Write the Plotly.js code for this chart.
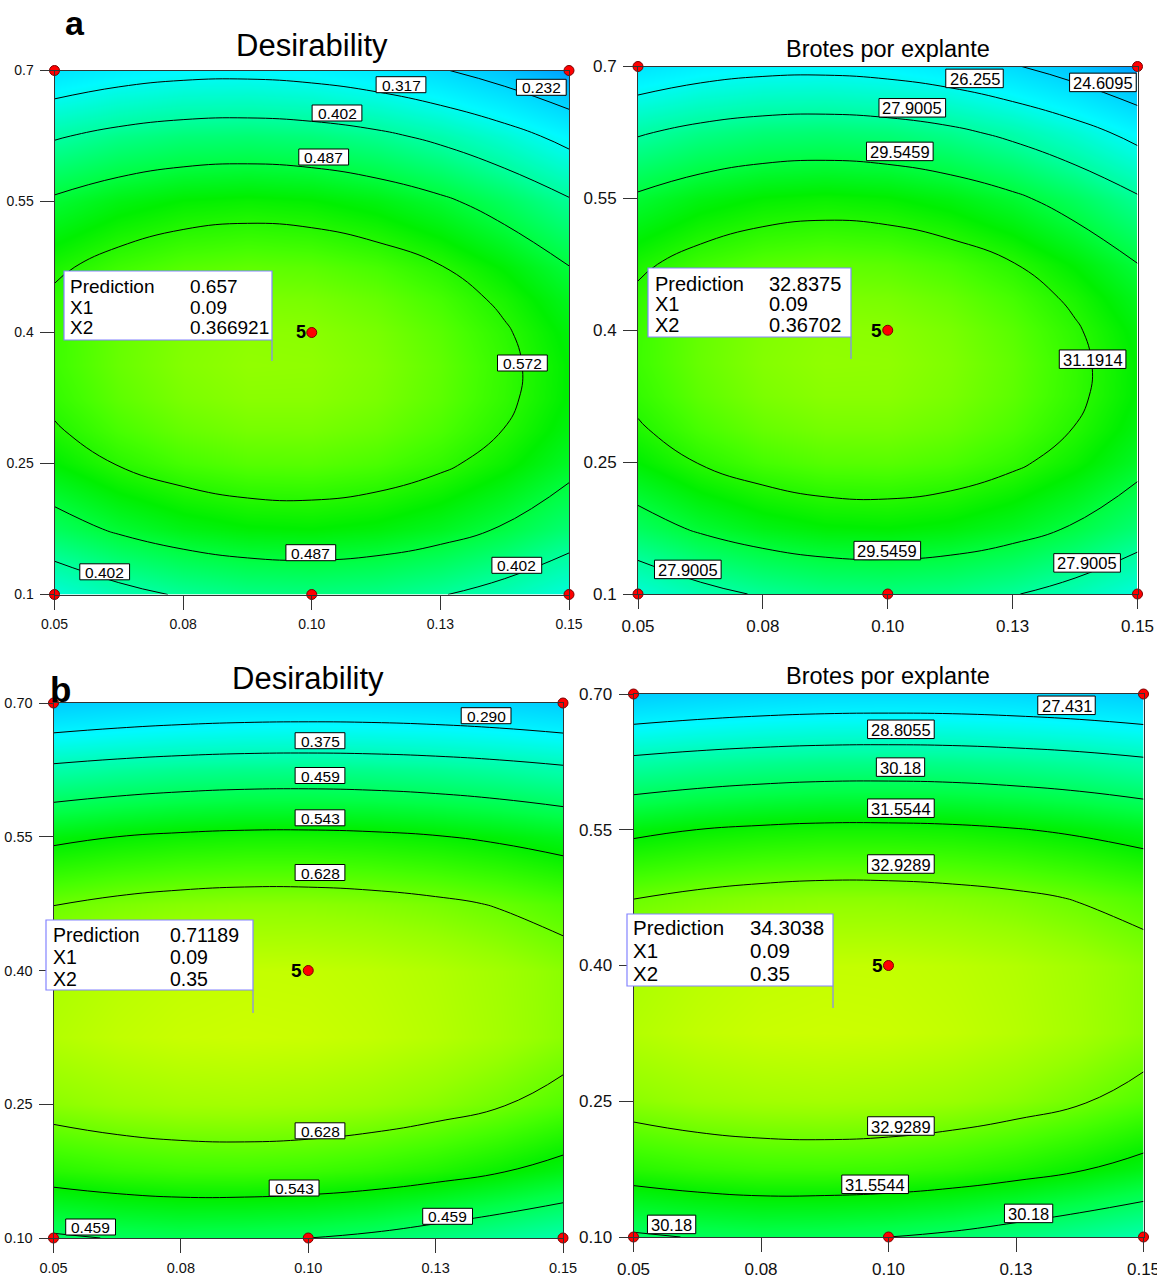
<!DOCTYPE html>
<html>
<head>
<meta charset="utf-8">
<script src="https://cdn.plot.ly/plotly-3.0.1.min.js"></script>
<style>
html,body{margin:0;padding:0;background:#ffffff;}
#chart{width:1157px;height:1278px;}
</style>
</head>
<body>
<div id="chart"></div>
<script>
// ---------------- DATA ----------------
const x1Grid = [0.05, 0.0625, 0.075, 0.0875, 0.1, 0.1125, 0.125, 0.1375, 0.15];
const x2GridA = [0.1, 0.175, 0.25, 0.2875, 0.325, 0.3625, 0.4, 0.4375, 0.475, 0.55, 0.625, 0.7];
const x2GridB = [0.1, 0.175, 0.25, 0.325, 0.4, 0.475, 0.55, 0.625, 0.7];

// rows follow the x2 grid (bottom to top), columns follow x1Grid
const desirabilityA = [
  [0.3426, 0.3812, 0.4085, 0.4246, 0.4294, 0.4230, 0.4054, 0.3766, 0.3365],
  [0.4595, 0.4963, 0.5219, 0.5363, 0.5395, 0.5314, 0.5121, 0.4816, 0.4398],
  [0.5399, 0.5751, 0.5990, 0.6117, 0.6131, 0.6033, 0.5823, 0.5501, 0.5066],
  [0.5665, 0.6008, 0.6238, 0.6357, 0.6362, 0.6256, 0.6038, 0.5707, 0.5263],
  [0.5839, 0.6174, 0.6395, 0.6505, 0.6503, 0.6388, 0.6161, 0.5822, 0.5370],
  [0.5922, 0.6248, 0.6462, 0.6563, 0.6552, 0.6429, 0.6193, 0.5845, 0.5385],
  [0.5914, 0.6232, 0.6437, 0.6530, 0.6510, 0.6378, 0.6134, 0.5778, 0.5309],
  [0.5815, 0.6124, 0.6321, 0.6405, 0.6377, 0.6237, 0.5984, 0.5619, 0.5142],
  [0.5625, 0.5926, 0.6114, 0.6190, 0.6153, 0.6004, 0.5743, 0.5370, 0.4884],
  [0.4972, 0.5255, 0.5426, 0.5485, 0.5431, 0.5266, 0.4987, 0.4597, 0.4094],
  [0.3953, 0.4220, 0.4374, 0.4416, 0.4345, 0.4162, 0.3867, 0.3460, 0.2940],
  [0.2571, 0.2820, 0.2957, 0.2982, 0.2894, 0.2695, 0.2382, 0.1958, 0.1421]
];
const brotesA = [
  [26.75, 27.50, 28.03, 28.34, 28.43, 28.31, 27.97, 27.41, 26.63],
  [29.01, 29.73, 30.22, 30.50, 30.56, 30.41, 30.03, 29.44, 28.63],
  [30.57, 31.25, 31.71, 31.96, 31.99, 31.80, 31.39, 30.77, 29.93],
  [31.08, 31.75, 32.19, 32.42, 32.43, 32.23, 31.81, 31.16, 30.31],
  [31.42, 32.07, 32.50, 32.71, 32.71, 32.48, 32.05, 31.39, 30.51],
  [31.58, 32.21, 32.63, 32.82, 32.80, 32.56, 32.11, 31.43, 30.54],
  [31.57, 32.18, 32.58, 32.76, 32.72, 32.47, 31.99, 31.30, 30.40],
  [31.37, 31.97, 32.35, 32.52, 32.46, 32.19, 31.70, 31.00, 30.07],
  [31.01, 31.59, 31.95, 32.10, 32.03, 31.74, 31.24, 30.51, 29.57],
  [29.74, 30.29, 30.62, 30.74, 30.63, 30.31, 29.77, 29.02, 28.04],
  [27.77, 28.29, 28.59, 28.67, 28.53, 28.18, 27.60, 26.82, 25.81],
  [25.10, 25.58, 25.84, 25.89, 25.72, 25.34, 24.73, 23.91, 22.87]
];
const desirabilityB = [
  [0.4504, 0.4621, 0.4684, 0.4655, 0.4590, 0.4480, 0.4300, 0.4100, 0.3880],
  [0.5729, 0.5848, 0.5915, 0.5930, 0.5894, 0.5807, 0.5666, 0.5472, 0.5228],
  [0.6517, 0.6638, 0.6710, 0.6731, 0.6703, 0.6626, 0.6498, 0.6319, 0.6092],
  [0.6869, 0.6992, 0.7068, 0.7096, 0.7076, 0.7009, 0.6894, 0.6730, 0.6520],
  [0.6785, 0.6909, 0.6989, 0.7023, 0.7012, 0.6955, 0.6853, 0.6705, 0.6511],
  [0.6264, 0.6390, 0.6474, 0.6515, 0.6511, 0.6465, 0.6376, 0.6243, 0.6066],
  [0.5307, 0.5435, 0.5522, 0.5570, 0.5574, 0.5539, 0.5462, 0.5344, 0.5184],
  [0.3913, 0.4042, 0.4134, 0.4188, 0.4201, 0.4176, 0.4112, 0.4009, 0.3866],
  [0.2083, 0.2214, 0.2310, 0.2370, 0.2391, 0.2376, 0.2325, 0.2237, 0.2111]
];
const brotesB = [
  [30.04, 30.23, 30.34, 30.29, 30.18, 30.00, 29.71, 29.38, 29.03],
  [32.04, 32.23, 32.34, 32.36, 32.31, 32.16, 31.93, 31.62, 31.22],
  [33.32, 33.52, 33.63, 33.67, 33.62, 33.50, 33.29, 33.00, 32.63],
  [33.89, 34.09, 34.22, 34.26, 34.23, 34.12, 33.93, 33.67, 33.32],
  [33.76, 33.96, 34.09, 34.14, 34.13, 34.03, 33.87, 33.63, 33.31],
  [32.91, 33.11, 33.25, 33.32, 33.31, 33.23, 33.09, 32.87, 32.59],
  [31.35, 31.56, 31.70, 31.78, 31.78, 31.73, 31.60, 31.41, 31.15],
  [29.08, 29.29, 29.44, 29.53, 29.55, 29.51, 29.40, 29.24, 29.00],
  [26.10, 26.31, 26.47, 26.57, 26.60, 26.58, 26.49, 26.35, 26.15]
];

const levelsDesA = [0.232, 0.317, 0.402, 0.487, 0.572];
const levelsBrotesA = [24.6095, 26.255, 27.9005, 29.5459, 31.1914];
const levelsDesB = [0.290, 0.375, 0.459, 0.543, 0.628];
const levelsBrotesB = [27.431, 28.8055, 30.18, 31.5544, 32.9289];

// design points (red dots)
const designX1 = [0.05, 0.15, 0.10, 0.05, 0.10, 0.15];
const designX2 = [0.70, 0.70, 0.40, 0.10, 0.10, 0.10];
const centerReplicates = '5';

// tick labels
const tickX1Vals = [0.05, 0.075, 0.10, 0.125, 0.15];
const tickX1Text = ['0.05', '0.08', '0.10', '0.13', '0.15'];
const tickX2Vals = [0.10, 0.25, 0.40, 0.55, 0.70];
const tickX2TextA = ['0.1', '0.25', '0.4', '0.55', '0.7'];
const tickX2TextB = ['0.10', '0.25', '0.40', '0.55', '0.70'];

// prediction flags
const predNames = ['Prediction', 'X1', 'X2'];
const predDesA = ['0.657', '0.09', '0.366921'];
const predBrotesA = ['32.8375', '0.09', '0.36702'];
const predDesB = ['0.71189', '0.09', '0.35'];
const predBrotesB = ['34.3038', '0.09', '0.35'];

// contour label texts
const labelsDesA = ['0.317', '0.232', '0.402', '0.487', '0.572', '0.487', '0.402', '0.402'];
const labelsBrotesA = ['26.255', '24.6095', '27.9005', '29.5459', '31.1914', '29.5459', '27.9005', '27.9005'];
const labelsDesB = ['0.290', '0.375', '0.459', '0.543', '0.628', '0.628', '0.543', '0.459', '0.459'];
const labelsBrotesB = ['27.431', '28.8055', '30.18', '31.5544', '32.9289', '32.9289', '31.5544', '30.18', '30.18'];

// ---------------- LAYOUT / STYLE ----------------
const W = 1157, H = 1278;
const PX = x => x / W;
const PY = y => 1 - y / H;
const FONT = 'Liberation Sans, Arial, Helvetica, sans-serif';

const colorscale = [
  [0.000, 'rgb(0,130,255)'],
  [0.161, 'rgb(0,200,255)'],
  [0.323, 'rgb(0,250,255)'],
  [0.484, 'rgb(0,255,160)'],
  [0.613, 'rgb(0,255,70)'],
  [0.710, 'rgb(0,240,0)'],
  [0.806, 'rgb(70,255,0)'],
  [0.903, 'rgb(150,255,0)'],
  [1.000, 'rgb(215,255,0)']
];

const panels = [
  { k: '', z: desirabilityA, yg: x2GridA, levels: levelsDesA, zr: [0.10, 0.72], box: [54.5, 569, 70.5, 594.5],
    yText: tickX2TextA, tickFs: 14, title: 'Desirability', titleFs: 31, titleXY: [311.5, 46],
    labels: labelsDesA,
    labelPos: [[401, 84.7], [541.3, 87.3], [337, 113], [323.7, 157], [522.4, 363], [310.8, 552.7], [104.7, 571.8], [516.8, 565.3]],
    labelFs: 15.5, labelH: 16, labelPad: 11,
    pred: predDesA, predBox: [64, 271, 272, 340, 361], predCols: [68, 188], predRows: [286.7, 307, 327.5], predFs: 19, fiveFs: 18 },
  { k: '2', z: brotesA, yg: x2GridA, levels: levelsBrotesA, zr: [22.05, 34.06], box: [638, 1137.5, 66.5, 594],
    yText: tickX2TextA, tickFs: 17, title: 'Brotes por explante', titleFs: 23.5, titleXY: [887.5, 49],
    labels: labelsBrotesA,
    labelPos: [[974.5, 78.4], [1102.9, 82.4], [912.3, 107.8], [899.8, 151.4], [1092.6, 359.2], [887.3, 550.6], [687.8, 569.4], [1087.1, 562.9]],
    labelFs: 16.5, labelH: 18.5, labelPad: 7,
    pred: predBrotesA, predBox: [648, 268, 851, 337, 359], predCols: [653, 767], predRows: [283.7, 303.7, 325], predFs: 20, fiveFs: 19 },
  { k: '3', z: desirabilityB, yg: x2GridB, levels: levelsDesB, zr: [0.10, 0.72], box: [53.5, 563, 703, 1238],
    yText: tickX2TextB, tickFs: 14.5, title: 'Desirability', titleFs: 31, titleXY: [308, 678],
    labels: labelsDesB,
    labelPos: [[486.1, 715.7], [320, 740.7], [320, 775.5], [320, 817.8], [320, 872.5], [320, 1130.8], [294.1, 1188], [447.6, 1216.3], [90.6, 1227]],
    labelFs: 15.5, labelH: 16, labelPad: 11,
    pred: predDesB, predBox: [46, 920, 253, 990, 1013], predCols: [51, 168], predRows: [935, 956.7, 978.8], predFs: 19.5, fiveFs: 19 },
  { k: '4', z: brotesB, yg: x2GridB, levels: levelsBrotesB, zr: [24.34, 34.43], box: [633.5, 1143.5, 694, 1237],
    yText: tickX2TextB, tickFs: 17, title: 'Brotes por explante', titleFs: 23.5, titleXY: [887.5, 676],
    labels: labelsBrotesB,
    labelPos: [[1066.5, 705.3], [900.9, 729.3], [900.5, 767.1], [900.9, 808.2], [900.9, 864], [900.9, 1126], [875.1, 1184.3], [1028.6, 1213.4], [671.6, 1224.4]],
    labelFs: 16.5, labelH: 18.5, labelPad: 7,
    pred: predBrotesB, predBox: [627, 914, 833, 986, 1008], predCols: [630.5, 748], predRows: [927.8, 950.9, 973.2], predFs: 20.5, fiveFs: 19 }
];

const traces = [];
const layout = {
  width: W, height: H,
  margin: { l: 0, r: 0, t: 0, b: 0 },
  paper_bgcolor: '#ffffff', plot_bgcolor: '#ffffff',
  showlegend: false,
  font: { family: FONT, color: '#000000' },
  annotations: [], shapes: []
};

panels.forEach(p => {
  const xa = 'x' + p.k, ya = 'y' + p.k;
  const lv = p.levels;
  const step = (lv[lv.length - 1] - lv[0]) / (lv.length - 1);
  traces.push({
    type: 'contour', x: x1Grid, y: p.yg, z: p.z,
    xaxis: xa, yaxis: ya,
    colorscale: colorscale, zauto: false, zmin: p.zr[0], zmax: p.zr[1],
    showscale: false, hoverinfo: 'skip',
    contours: { coloring: 'heatmap', start: lv[0], end: lv[lv.length - 1] + step * 0.4, size: step, showlabels: false },
    line: { color: '#000000', width: 1, smoothing: 1.3 }
  });
  traces.push({
    type: 'scatter', mode: 'markers', x: designX1, y: designX2, xaxis: xa, yaxis: ya,
    marker: { color: '#ff0000', size: 10, line: { color: '#7a0000', width: 1 } },
    hoverinfo: 'skip', cliponaxis: false
  });

  const [l, r, t, b] = p.box;
  const axName = 'axis' + p.k;
  const common = {
    ticks: 'outside', ticklen: 14, tickcolor: '#333333', tickwidth: 1,
    showline: true, mirror: true, linecolor: '#333333', linewidth: 1,
    showgrid: false, zeroline: false, fixedrange: true,
    ticklabelstandoff: 3, ticklabeloverflow: 'allow',
    tickfont: { family: FONT, size: p.tickFs, color: '#111111' }
  };
  layout['x' + axName] = Object.assign({
    domain: [PX(l), PX(r)], anchor: ya, range: [0.05, 0.15],
    tickvals: tickX1Vals, ticktext: tickX1Text
  }, common);
  layout['y' + axName] = Object.assign({
    domain: [PY(b), PY(t)], anchor: xa, range: [0.1, 0.7],
    tickvals: tickX2Vals, ticktext: p.yText
  }, common);

  // title
  layout.annotations.push({
    xref: 'paper', yref: 'paper', x: PX(p.titleXY[0]), y: PY(p.titleXY[1]),
    xanchor: 'center', yanchor: 'middle', showarrow: false,
    text: p.title, font: { family: FONT, size: p.titleFs, color: '#000000' }
  });

  // contour labels (white boxes)
  p.labels.forEach((txt, i) => {
    const [cx, cy] = p.labelPos[i];
    const nd = txt.replace('.', '').length;
    const w = p.labelFs * (0.556 * nd + 0.278) + p.labelPad;
    layout.shapes.push({
      type: 'rect', xref: 'paper', yref: 'paper', layer: 'above',
      x0: PX(cx - w / 2), x1: PX(cx + w / 2), y0: PY(cy + p.labelH / 2), y1: PY(cy - p.labelH / 2),
      fillcolor: '#ffffff', line: { color: '#000000', width: 1 }
    });
    layout.annotations.push({
      xref: 'paper', yref: 'paper', x: PX(cx), y: PY(cy + 0.5),
      xanchor: 'center', yanchor: 'middle', showarrow: false,
      text: txt, font: { family: FONT, size: p.labelFs, color: '#000000' }
    });
  });

  // prediction flag
  const [bx0, by0, bx1, by1, flagY] = p.predBox;
  layout.shapes.push({
    type: 'line', xref: 'paper', yref: 'paper', layer: 'above',
    x0: PX(bx1), x1: PX(bx1), y0: PY(by1), y1: PY(flagY),
    line: { color: '#8484ff', width: 1.2 }
  });
  layout.shapes.push({
    type: 'rect', xref: 'paper', yref: 'paper', layer: 'above',
    x0: PX(bx0), x1: PX(bx1), y0: PY(by1), y1: PY(by0),
    fillcolor: '#ffffff', line: { color: '#8484ff', width: 1.2 }
  });
  predNames.forEach((nm, i) => {
    layout.annotations.push({
      xref: 'paper', yref: 'paper', x: PX(p.predCols[0]), y: PY(p.predRows[i]),
      xanchor: 'left', yanchor: 'middle', showarrow: false,
      text: nm, font: { family: FONT, size: p.predFs, color: '#000000' }
    });
    layout.annotations.push({
      xref: 'paper', yref: 'paper', x: PX(p.predCols[1]), y: PY(p.predRows[i]),
      xanchor: 'left', yanchor: 'middle', showarrow: false,
      text: p.pred[i], font: { family: FONT, size: p.predFs, color: '#000000' }
    });
  });

  // replicate count next to center point
  layout.annotations.push({
    xref: xa, yref: ya, x: designX1[2], y: designX2[2],
    xanchor: 'right', yanchor: 'middle', xshift: -4, showarrow: false,
    text: '<b>' + centerReplicates + '</b>', font: { family: FONT, size: p.fiveFs, color: '#000000' }
  });
});

// panel letters
layout.annotations.push({
  xref: 'paper', yref: 'paper', x: PX(75), y: PY(23), xanchor: 'center', yanchor: 'middle',
  showarrow: false, text: '<b>a</b>', font: { family: FONT, size: 34, color: '#000000' }
});
layout.annotations.push({
  xref: 'paper', yref: 'paper', x: PX(60), y: PY(689), xanchor: 'center', yanchor: 'middle',
  showarrow: false, text: '<b>b</b>', font: { family: FONT, size: 35, color: '#000000' }
});

Plotly.newPlot('chart', traces, layout, { displayModeBar: false, staticPlot: true });
</script>
</body>
</html>
